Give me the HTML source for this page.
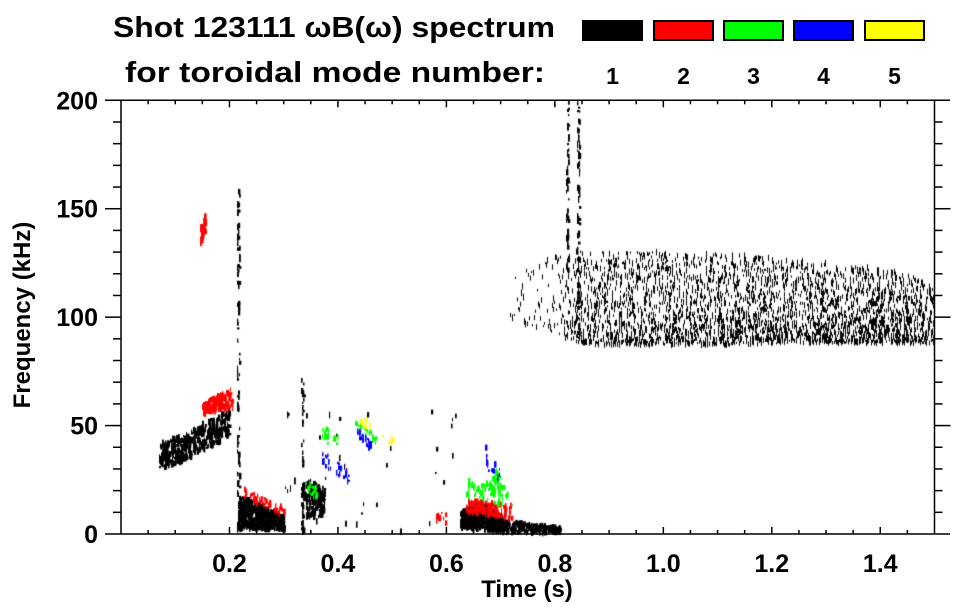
<!DOCTYPE html>
<html><head><meta charset="utf-8">
<style>
html,body{margin:0;padding:0;background:#fff;}
#wrap{position:relative;width:963px;height:615px;overflow:hidden;font-family:"Liberation Sans",Arial,sans-serif;font-weight:bold;color:#000;}
canvas{position:absolute;left:0;top:0;}
svg{position:absolute;left:0;top:0;}
</style></head><body>
<div id="wrap">
<canvas id="cv" width="963" height="615"></canvas>
<svg id="sv" width="963" height="615">
  <text x="113" y="37" font-size="29" font-weight="bold" font-family="Liberation Sans, sans-serif" textLength="442" lengthAdjust="spacingAndGlyphs">Shot 123111 ωB(ω) spectrum</text>
  <text x="125" y="82" font-size="29" font-weight="bold" font-family="Liberation Sans, sans-serif" textLength="420" lengthAdjust="spacingAndGlyphs">for toroidal mode number:</text>
  <g id="legend"></g>
  <g id="axes"></g>
  <text x="527" y="597" font-size="24" font-weight="bold" text-anchor="middle" font-family="Liberation Sans, sans-serif">Time (s)</text>
  <text transform="translate(30,315) rotate(-90)" font-size="24" font-weight="bold" text-anchor="middle" font-family="Liberation Sans, sans-serif">Frequency (kHz)</text>
</svg>
</div>
<script>
// ---- data ----
const modeNumbers = [1,2,3,4,5];
const modeColors = ["#000000","#ff0000","#00ff00","#0000ff","#ffff00"];
const xTicks = [0.2,0.4,0.6,0.8,1.0,1.2,1.4];
const xTickLabels = ["0.2","0.4","0.6","0.8","1.0","1.2","1.4"];
const yTicks = [0,50,100,150,200];
const yTickLabels = ["0","50","100","150","200"];
// features: mode, tStart, tEnd, freq low/high at start, freq low/high at end, count
const featMode = [1,1,1,1,1,1,1,1,1, 1,1,1, 2,2,2,2,2, 3,3,3,3,3, 4,4,4, 5,5];
const featT0   = [0.07,0.11,0.215,0.34,0.625,0.66,0.70,0.213,0.332, 0.82,0.84,0.30, 0.145,0.15,0.225,0.635,0.58, 0.34,0.37,0.43,0.635,0.68, 0.37,0.43,0.67, 0.44,0.48];
const featT1   = [0.12,0.20,0.30,0.375,0.66,0.70,0.81,0.218,0.337, 0.825,0.845,0.62, 0.155,0.205,0.30,0.72,0.60, 0.36,0.40,0.47,0.72,0.70, 0.42,0.46,0.70, 0.46,0.50];
const featLo0  = [30,33,2,8,3,2,1,0,0, 120,90,0, 132,55,17,10,3, 18,43,48,17,25, 30,45,30, 52,45];
const featHi0  = [42,45,18,25,10,15,6,160,72, 200,200,60, 142,60,21,16,10, 25,50,52,25,32, 38,50,40, 56,50];
const featLo1  = [34,45,2,8,2,1,0,0,0, 120,90,0, 140,58,8,7,3, 16,38,42,12,20, 24,38,24, 46,40];
const featHi1  = [46,58,8,22,14,8,3,160,72, 200,200,60, 148,68,12,13,10, 22,45,46,22,26, 30,42,34, 50,44];
const featCount= [200,320,550,170,300,320,220,90,50, 45,70,35, 45,180,50,160,10, 20,20,20,70,25, 25,20,15, 8,8];
// broadband mode-1 region (~100 kHz)
const bandT  = [0.70,0.80,0.845,0.90,1.00,1.10,1.25,1.35,1.45,1.50];
const bandLo = [100,92,88,87,87,87,88,88,88,88];
const bandHi = [118,128,132,130,130,129,127,124,120,113];
const bandDensity = [0.3,1.5,6,8,9,9,9,9,8,7];

// ---- scales ----
const X0=121, X1=934.5, Y0=534, Y1=100.3;
const xs = t => X0 + (t-0)/(1.5-0)*(X1-X0);
const ys = f => Y0 + f/200*(Y1-Y0);

const NS="http://www.w3.org/2000/svg";
function mk(tag, attrs, parent){const e=document.createElementNS(NS,tag);for(const k in attrs)e.setAttribute(k,attrs[k]);parent.appendChild(e);return e;}

// legend
const lg=document.getElementById('legend');
const legX=[582,653,723,793,864];
modeNumbers.forEach((m,i)=>{
  const r=mk('rect',{x:legX[i]+1,y:21,width:59,height:19,fill:modeColors[i],stroke:'#000','stroke-width':2},lg);
  
  
  const t=mk('text',{x:legX[i]+30.5,y:84,'font-size':23,'font-weight':'bold','text-anchor':'middle','font-family':'Liberation Sans, sans-serif'},lg);
  t.textContent=String(m);
  
  
});

// axes
const ax=document.getElementById('axes');
const st={stroke:'#000','stroke-width':1.5};
let l;
l=mk('line',Object.assign({x1:105,y1:Y0,x2:950,y2:Y0},st),ax);
l=mk('line',Object.assign({x1:105,y1:Y1,x2:950,y2:Y1},st),ax);
l=mk('line',Object.assign({x1:X0,y1:Y1,x2:X0,y2:Y0},st),ax);
l=mk('line',Object.assign({x1:X1,y1:Y1,x2:X1,y2:Y0},st),ax);
for(let k=1;k<30;k++){
  const t=k*0.05, x=xs(t), major=(k%4===0);
  const len=major?7:4;
  l=mk('line',Object.assign({x1:x,y1:Y0,x2:x,y2:Y0-len},st),ax);
  l=mk('line',Object.assign({x1:x,y1:Y1,x2:x,y2:Y1+len},st),ax);
}
for(let k=1;k<20;k++){
  const y=ys(k*10), major=(k%5===0);
  const len=major?16:8;
  l=mk('line',Object.assign({x1:X0-len,y1:y,x2:X0,y2:y},st),ax);
  l=mk('line',Object.assign({x1:X1,y1:y,x2:X1+len,y2:y},st),ax);
}
xTicks.forEach((t,i)=>{
  const e=mk('text',{x:xs(t),y:572,'font-size':25,'font-weight':'bold','text-anchor':'middle','font-family':'Liberation Sans, sans-serif'},ax);
  e.textContent=xTickLabels[i];
  
  
});
yTicks.forEach((f,i)=>{
  const e=mk('text',{x:98,y:ys(f)+9,'font-size':25,'font-weight':'bold','text-anchor':'end','font-family':'Liberation Sans, sans-serif'},ax);
  e.textContent=yTickLabels[i];
  
  
});

// spectrogram marks (texture via seeded generator)
const ctx=document.getElementById('cv').getContext('2d');
let seed=12345;
function rnd(){seed=(seed*1103515245+12345)%2147483648;return seed/2147483648;}
function clipY(y){return Math.max(Y1,Math.min(Y0-1,y));}
featMode.forEach((m,i)=>{
  ctx.fillStyle=modeColors[m-1];
  const n=featCount[i];
  for(let k=0;k<n;k++){
    const u=rnd();
    const t=featT0[i]+u*(featT1[i]-featT0[i]);
    const lo=featLo0[i]+u*(featLo1[i]-featLo0[i]);
    const hi=featHi0[i]+u*(featHi1[i]-featHi0[i]);
    const f=lo+rnd()*(hi-lo);
    const x=xs(t), y=ys(f);
    const h=2+rnd()*5, w=1+rnd()*1.5;
    ctx.fillRect(Math.round(x),clipY(y-h/2),w,h);
  }
});
// broadband region
ctx.fillStyle="#000";
function interp(arr,t){
  for(let j=0;j<bandT.length-1;j++){
    if(t>=bandT[j]&&t<=bandT[j+1]){const a=(t-bandT[j])/(bandT[j+1]-bandT[j]);return arr[j]+a*(arr[j+1]-arr[j]);}
  }
  return arr[arr.length-1];
}
for(let x=Math.ceil(xs(bandT[0])); x<X1-1; x+=1){
  const t=(x-X0)/(X1-X0)*1.5;
  const lo=interp(bandLo,t), hi=interp(bandHi,t), d=interp(bandDensity,t);
  const n=Math.round(d*(0.5+rnd()));
  for(let k=0;k<n;k++){
    let r=rnd(); r=r*r*0.6+r*0.4; // denser toward lower edge
    const f=lo+r*(hi-lo);
    const h=2+rnd()*5;
    ctx.fillRect(x,ys(f)-h/2,1,h);
  }
}
</script>
</body></html>
